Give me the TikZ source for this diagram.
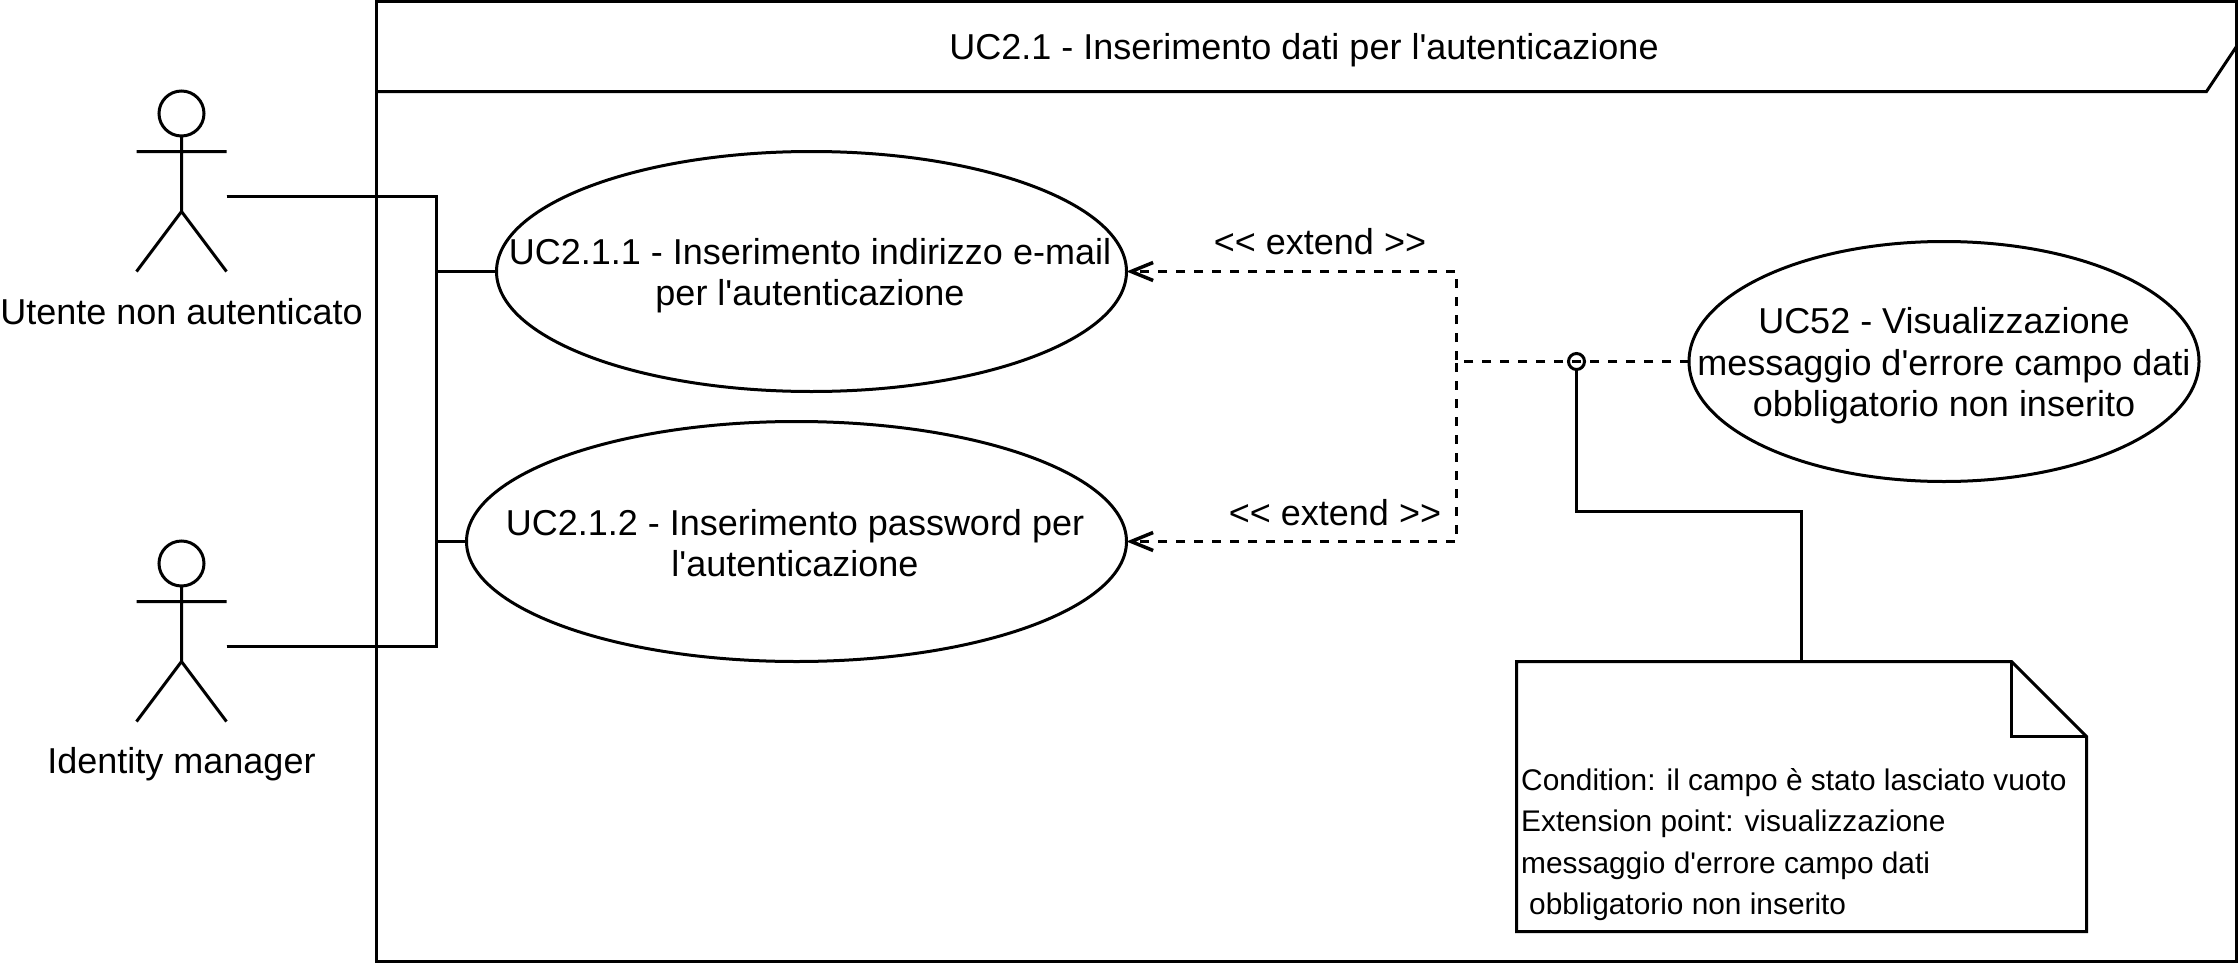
\documentclass[tikz,border=0pt]{standalone}
\usepackage{fontspec}
\newfontfamily\lib{Liberation Sans}
\usetikzlibrary{arrows.meta}
\tikzset{
  x=1pt,y=-1pt,
  ln/.style={line width=3pt,draw=black,line join=miter},
  lbl/.style={inner sep=0pt,font=\lib\fontsize{36}{41.6}\selectfont,align=center},
  notetext/.style={inner sep=0pt,align=left,font=\lib\fontsize{29.85}{41.6}\selectfont},
  dsh/.style={line width=3pt,dash pattern=on 9pt off 9pt,draw=black,-{Straight Barb[length=22pt,width=18pt,line width=3.5pt]}},
}
\begin{document}
\begin{tikzpicture}
\useasboundingbox (0,0) rectangle (2238,966);
% frame
\node[ln,rectangle,minimum width=1860pt,minimum height=960pt,inner sep=0pt] (frame) at (1306.5,481.5) {};
\coordinate (hl) at (376.5,91.5);
\coordinate (hc) at (2206.5,91.5);
\coordinate (hr) at (2236.5,46.5);
\draw[ln] (hl) -- (hc) -- (hr);
\node[lbl] (title) at (1304,50) {UC2.1 - Inserimento dati per l'autenticazione};
% actors
\draw[ln] (181.5,113.5) circle (22.5);
\draw[ln] (181.5,136) -- (181.5,211.5) (136.5,151.5) -- (226.5,151.5) (136.5,271.5) -- (181.5,211.5) -- (226.5,271.5);
\node[lbl] (a1label) at (181.5,312) {Utente non autenticato};
\draw[ln] (181.5,563.5) circle (22.5);
\draw[ln] (181.5,586) -- (181.5,661.5) (136.5,601.5) -- (226.5,601.5) (136.5,721.5) -- (181.5,661.5) -- (226.5,721.5);
\node[lbl] (a2label) at (181.5,764) {Identity manager};
\coordinate (a1) at (226.5,196.5);
\coordinate (a2) at (226.5,646.5);
% use cases
\draw[ln] (811.5,271.5) ellipse (315 and 120);
\coordinate (uc1w) at (496.5,271.5);
\coordinate (uc1e) at (1126.5,271.5);
\node[lbl] (uc1) at (810,275.5) {UC2.1.1 - Inserimento indirizzo e-mail\\per l'autenticazione};
\draw[ln] (796.5,541.5) ellipse (330 and 120);
\coordinate (uc2w) at (466.5,541.5);
\coordinate (uc2e) at (1126.5,541.5);
\node[lbl] (uc2) at (795,543) {UC2.1.2 - Inserimento password per\\l'autenticazione};
\draw[ln] (1944,361.5) ellipse (255 and 120);
\coordinate (uc3w) at (1689,361.5);
\node[lbl] (uc3) at (1944,366) {UC52 - Visualizzazione\\messaggio d'errore campo dati\\obbligatorio non inserito};
% actor links
\coordinate (busT) at (436.5,196.5);
\coordinate (busB) at (436.5,646.5);
\draw[ln] (a1) -- (busT) |- (uc1w);
\draw[ln] (a1) -- (busT) |- (uc2w);
\draw[ln] (a2) -- (busB) |- (uc1w);
\draw[ln] (a2) -- (busB) |- (uc2w);
% extends
\coordinate (jn) at (1456.5,361.5);
\draw[dsh] (uc3w) -- (jn) |- (uc1e);
\draw[dsh] (uc3w) -- (jn) |- (uc2e);
\node[lbl] (e1) at (1320,242) {<< extend >>};
\node[lbl] (e2) at (1335,513) {<< extend >>};
% extension point
\draw[ln] (1576.5,361.5) circle (8);
\coordinate (ep) at (1576.5,369.5);
% note
\coordinate (nt) at (1801.5,661.5);
\draw[ln] (1516.5,661.5) -- (2011.5,661.5) -- (2086.5,736.5) -- (2086.5,931.5) -- (1516.5,931.5) -- cycle;
\draw[ln] (2011.5,661.5) -- (2011.5,736.5) -- (2086.5,736.5);
\draw[ln] (ep) |- (1801.5,511.5) -- (nt);
\node[notetext,anchor=north west] (note) at (1521,768) {Condition: il campo è stato lasciato vuoto\\Extension point: visualizzazione\\messaggio d'errore campo dati\\\hspace*{8pt}obbligatorio non inserito};
\end{tikzpicture}
\end{document}
